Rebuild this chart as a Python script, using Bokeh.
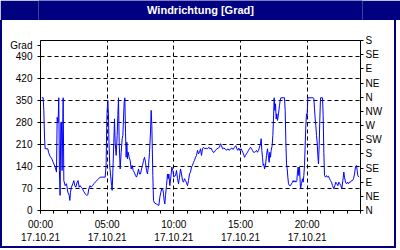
from bokeh.plotting import figure
from bokeh.models import Range1d, LinearAxis, FixedTicker, Grid
from bokeh.layouts import column
from bokeh.embed import file_html
from bokeh.resources import INLINE
from bokeh.core.properties import value

# ---- data ----
hours = [
    0.10, 0.20, 0.25, 0.30, 0.35, 0.55, 0.60, 0.72, 0.85, 0.97, 1.10, 1.20, 1.25, 1.32, 1.37,
    1.42, 1.47, 1.52, 1.57, 1.62, 1.70, 1.75, 1.85, 1.95, 2.05, 2.15, 2.20, 2.25, 2.32, 2.42,
    2.50, 2.57, 2.65, 2.75, 2.82, 2.90, 2.97, 3.05, 3.15, 3.25, 3.35, 3.47, 3.55, 3.62, 3.72,
    3.80, 3.90, 4.00, 4.10, 4.22, 4.35, 4.47, 4.60, 4.85, 4.92, 4.97, 5.00, 5.05, 5.10,
    5.125, 5.20, 5.25, 5.33, 5.375, 5.425, 5.50, 5.55, 5.60, 5.675, 5.75, 5.80, 5.85, 5.90,
    5.975, 6.05, 6.125, 6.175, 6.225, 6.275, 6.325, 6.375, 6.425, 6.475, 6.525, 6.575, 6.65,
    6.725, 6.80, 6.875, 6.95, 7.025, 7.125, 7.20, 7.275, 7.35, 7.425, 7.50, 7.575, 7.65,
    7.725, 7.80, 7.875, 7.95, 8.025, 8.10, 8.175, 8.25, 8.30, 8.35, 8.425, 8.475, 8.55,
    8.675, 8.80, 8.875, 8.95, 9.025, 9.10, 9.175, 9.225, 9.275, 9.325, 9.375, 9.45, 9.525,
    9.575, 9.625, 9.70, 9.775, 9.85, 9.925, 10.00, 10.075,
    10.125, 10.20, 10.275, 10.35, 10.425, 10.50, 10.575, 10.65, 10.725, 10.80, 10.875, 10.95,
    11.025, 11.10, 11.175, 11.25, 11.325, 11.40, 11.475, 11.55, 11.625, 11.70, 11.775, 11.85,
    11.925, 12.00, 12.075, 12.15, 12.225, 12.325, 12.425, 12.525, 12.625, 12.70, 12.80,
    12.875, 12.95, 13.025, 13.125, 13.225, 13.325, 13.425, 13.50, 13.575, 13.65, 13.75,
    13.85, 13.95, 14.05, 14.15, 14.25, 14.35, 14.45, 14.55, 14.65, 14.725, 14.80, 14.875,
    14.95, 15.05,
    15.225, 15.30, 15.375, 15.45, 15.525, 15.60, 15.675, 15.75, 15.825, 15.90, 15.975, 16.05,
    16.125, 16.20, 16.275, 16.35, 16.425, 16.50, 16.55, 16.60, 16.65, 16.70, 16.75, 16.80,
    16.875, 16.95, 17.025, 17.10, 17.15, 17.20, 17.25, 17.30, 17.375, 17.425, 17.475, 17.525,
    17.575, 17.625, 17.675, 17.725, 17.775, 17.85, 17.925, 17.975, 18.025, 18.30, 18.35,
    18.40, 18.45, 18.50, 18.55, 18.60, 18.675, 18.75, 18.825, 18.90, 18.95, 19.00, 19.075,
    19.15, 19.225, 19.275, 19.325, 19.375, 19.425,
    19.50, 19.575, 19.65, 19.70, 19.75, 19.80, 19.85, 19.90, 19.95, 20.00, 20.05, 20.45,
    20.50, 20.55, 20.60, 20.65, 20.70, 20.75, 20.80, 20.85, 20.90, 20.95, 21.00, 21.15,
    21.20, 21.25, 21.30, 21.375, 21.45, 21.525, 21.60, 21.675, 21.75, 21.825, 21.90, 22.00,
    22.075, 22.15, 22.225, 22.30, 22.375, 22.45, 22.525, 22.60, 22.675, 22.75, 22.80, 22.875,
    22.95, 23.025, 23.10, 23.175, 23.25, 23.325, 23.40, 23.475, 23.55, 23.625, 23.70, 23.75,
    23.80, 23.875,
]
degrees = [
    358, 358, 318, 233, 196, 196, 185, 172, 164, 151, 138, 122, 296, 280, 358,
    127, 48, 280, 280, 127, 358, 95, 79, 85, 58, 48, 32, 58, 74, 85,
    95, 79, 74, 90, 95, 74, 79, 74, 69, 60, 53, 48, 50, 69, 79,
    74, 79, 85, 90, 95, 100, 106, 106, 106, 143, 280, 318, 350, 300,
    233, 138, 116, 79, 64, 122, 217, 291, 217, 175, 238, 302, 358, 217,
    132, 185, 228, 238, 291, 344, 358, 249, 169, 217, 164, 185, 169,
    159, 132, 143, 127, 122, 111, 106, 116, 132, 116, 116, 132, 143,
    159, 169, 153, 127, 116, 143, 185, 249, 318, 270, 111, 32, 24,
    21, 18, 16, 42, 58, 69, 67, 53, 32, 21, 48, 79, 116,
    101, 116, 79, 106, 138, 127, 106, 111,
    111, 127, 101, 85, 106, 132, 116, 95, 90, 101, 95, 88,
    79, 95, 116, 122, 138, 143, 153, 159, 169, 175, 191, 180,
    185, 196, 175, 196, 201, 196, 198, 196, 201, 196, 198,
    191, 185, 185, 191, 196, 198, 201, 212, 206, 196, 198,
    196, 191, 196, 191, 196, 198, 194, 201, 206, 196, 191, 198,
    191, 196,
    180, 169, 175, 180, 185, 191, 196, 201, 196, 191, 185, 185,
    187, 191, 185, 191, 201, 212, 228, 191, 169, 143, 148, 132,
    143, 175, 196, 169, 153, 185, 169, 191, 206, 238, 291, 358,
    318, 339, 291, 307, 286, 307, 334, 349, 358, 358, 318,
    222, 148, 134, 106, 85, 79, 79, 85, 90, 95, 90, 95,
    90, 95, 122, 138, 111, 138,
    69, 85, 101, 90, 111, 143, 206, 270, 307, 302, 358, 358,
    355, 323, 291, 270, 238, 217, 175, 148, 206, 291, 358, 358,
    302, 185, 111, 106, 111, 106, 109, 101, 95, 90, 79, 69,
    79, 90, 85, 79, 90, 85, 79, 69, 95, 122, 106, 90,
    85, 90, 85, 90, 90, 95, 95, 101, 116, 138, 143, 127,
    111, 106,
]

time_ticks = [0, 5, 10, 15, 20]
time_labels = ["00:00", "05:00", "10:00", "15:00", "20:00"]
date_label = "17.10.21"
grad_ticks = [0, 70, 140, 210, 280, 350, 420, 490]
unit_label = "Grad"
unit_pos = 525
dir_ticks = [0, 45, 90, 135, 180, 225, 270, 315, 360, 405, 450, 495, 540]
dir_labels = ["N", "NE", "E", "SE", "S", "SW", "W", "NW", "N", "NE", "E", "SE", "S"]
title_text = "Windrichtung [Grad]"

NAVY = "#000080"
FONT = "Liberation Sans"
FS = "10px"

# ---- title band ----
t = figure(width=400, height=20, x_range=Range1d(0, 1), y_range=Range1d(0, 1),
           toolbar_location=None, output_backend="svg", x_axis_type=None, y_axis_type=None,
           min_border=0, outline_line_color=None, background_fill_color=NAVY,
           border_fill_color=NAVY)
t.text(x=[0.5], y=[0.55], text=[title_text], text_color="white", text_font=value(FONT),
       text_font_style="bold", text_font_size="11px", text_align="center",
       text_baseline="middle")

# ---- main plot ----
p = figure(width=396, height=228, x_range=Range1d(0, 24), y_range=Range1d(0, 540),
           toolbar_location=None, output_backend="svg", x_axis_type=None, y_axis_type=None,
           min_border_left=38, min_border_right=38, min_border_top=20, min_border_bottom=38,
           background_fill_color="white", border_fill_color="white",
           outline_line_color="black", outline_line_width=1)
p.styles = {"border-left": f"2px solid {NAVY}", "border-right": f"2px solid {NAVY}",
            "border-bottom": f"2px solid {NAVY}"}


def style_axis(ax):
    ax.major_label_text_font = FONT
    ax.major_label_text_font_size = FS
    ax.major_label_text_color = "black"
    ax.axis_line_color = "black"
    ax.major_tick_in = 0
    ax.major_tick_out = 3
    ax.minor_tick_in = 0
    ax.minor_tick_out = 3


left = LinearAxis(ticker=FixedTicker(ticks=grad_ticks + [unit_pos], minor_ticks=[]),
                  major_label_overrides={unit_pos: unit_label})
style_axis(left)
left.major_label_standoff = 5
p.add_layout(left, "left")

right = LinearAxis(ticker=FixedTicker(ticks=dir_ticks, minor_ticks=[]),
                   major_label_overrides={k: v for k, v in zip(dir_ticks, dir_labels)})
style_axis(right)
right.major_label_standoff = 2
p.add_layout(right, "right")

bottom = LinearAxis(ticker=FixedTicker(ticks=time_ticks, minor_ticks=list(range(0, 25))),
                    major_label_overrides={k: v for k, v in zip(time_ticks, time_labels)})
style_axis(bottom)
bottom.major_label_standoff = 5
p.add_layout(bottom, "below")

bottom2 = LinearAxis(ticker=FixedTicker(ticks=time_ticks, minor_ticks=[]),
                     major_label_overrides={k: date_label for k in time_ticks})
style_axis(bottom2)
bottom2.axis_line_color = None
bottom2.major_tick_line_color = None
bottom2.minor_tick_line_color = None
bottom2.major_tick_out = 0
bottom2.minor_tick_out = 0
bottom2.major_label_standoff = 0
p.add_layout(bottom2, "below")

p.add_layout(Grid(dimension=0, ticker=FixedTicker(ticks=time_ticks[1:]),
                  grid_line_color="black", grid_line_dash="4 3", grid_line_width=1))
p.add_layout(Grid(dimension=1, ticker=FixedTicker(ticks=grad_ticks[1:]),
                  grid_line_color="black", grid_line_dash="4 3", grid_line_width=1))

p.line(hours, degrees, line_color="#0000FF", line_width=1)

layout = column(t, p)
open("out.html", "w").write(file_html(layout, INLINE))
